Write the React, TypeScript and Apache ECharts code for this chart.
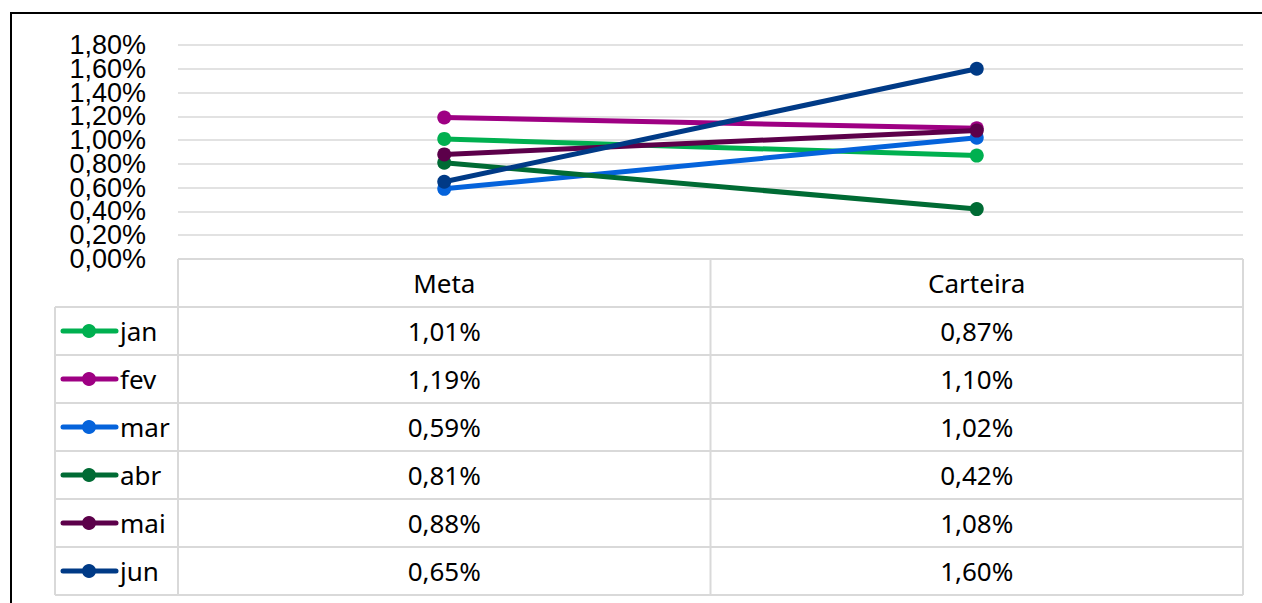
import React, { useEffect, useRef } from "react";
import * as echarts from "echarts";

const categories = ["Meta", "Carteira"];
const seriesNames = ["jan", "fev", "mar", "abr", "mai", "jun"];
const janValues = [1.01, 0.87];
const fevValues = [1.19, 1.1];
const marValues = [0.59, 1.02];
const abrValues = [0.81, 0.42];
const maiValues = [0.88, 1.08];
const junValues = [0.65, 1.6];
const seriesValues = [janValues, fevValues, marValues, abrValues, maiValues, junValues];
const seriesColors = ["#00B050", "#9E0083", "#0563DB", "#006B34", "#5C004A", "#003A86"];
const yTicks = [0, 0.2, 0.4, 0.6, 0.8, 1.0, 1.2, 1.4, 1.6, 1.8];
const yMin = 0;
const yMax = 1.8;
const yInterval = 0.2;

const fmt = (v: number) => v.toFixed(2).replace(".", ",") + "%";

export default function App() {
  const ref = useRef<HTMLDivElement>(null);
  useEffect(() => {
    if (!ref.current) return;
    const chart = echarts.init(ref.current, null, { renderer: "svg" });

    const gridLeft = 178;
    const gridRight = 1243;
    const gridTop = 45;
    const gridBottom = 259;
    const rowH = 48;
    const legendLeft = 55;
    const tableFont = "'Noto Sans', sans-serif";
    const tableSize = 26;
    const border = "#D9D9D9";

    chart.setOption({
      animation: false,
      backgroundColor: "#ffffff",
      grid: {
        left: gridLeft,
        right: 1262 - gridRight,
        top: gridTop,
        bottom: 603 - gridBottom,
        containLabel: false,
      },
      xAxis: {
        type: "category",
        data: categories,
        boundaryGap: true,
        axisLine: { show: false },
        axisTick: { show: false },
        axisLabel: { show: false },
      },
      yAxis: {
        type: "value",
        min: yMin,
        max: yMax,
        interval: yInterval,
        axisLine: { show: false },
        axisTick: { show: false },
        splitLine: { lineStyle: { color: border, width: 1.5 } },
        axisLabel: { show: false },
      },
      series: seriesNames.map((name, i) => ({
        name,
        type: "line",
        data: seriesValues[i],
        symbol: "circle",
        symbolSize: 14,
        lineStyle: { color: seriesColors[i], width: 5 },
        itemStyle: { color: seriesColors[i] },
        z: 2 + i,
      })),
    });

    const colCenters = categories.map((c) => chart.convertToPixel({ xAxisIndex: 0 }, c) as number);
    const tableBottom = gridBottom + rowH * (seriesNames.length + 1);
    const elements: any[] = [];
    elements.push({
      type: "rect",
      shape: { x: 11, y: 13, width: 1400, height: 800 },
      style: { fill: "none", stroke: "#000000", lineWidth: 2 },
      silent: true,
    });
    // y tick labels
    yTicks.forEach((v) => {
      const y = chart.convertToPixel({ yAxisIndex: 0 }, v) as number;
      elements.push({
        type: "text",
        x: gridLeft - 32,
        y,
        style: {
          text: fmt(v),
          fontFamily: "'Liberation Sans', Arial, sans-serif",
          fontSize: 27,
          fill: "#000000",
          align: "right",
          verticalAlign: "middle",
        },
      });
    });
    elements.push({
      type: "line",
      shape: { x1: gridLeft, y1: gridBottom, x2: gridRight, y2: gridBottom },
      style: { stroke: border, lineWidth: 2 },
    });
    for (let r = 1; r <= seriesNames.length + 1; r++) {
      const y = gridBottom + rowH * r;
      elements.push({
        type: "line",
        shape: { x1: legendLeft, y1: y, x2: gridRight, y2: y },
        style: { stroke: border, lineWidth: 2 },
      });
    }
    const mid = (gridLeft + gridRight) / 2;
    [gridLeft, mid, gridRight].forEach((x) => {
      elements.push({
        type: "line",
        shape: { x1: x, y1: gridBottom, x2: x, y2: tableBottom },
        style: { stroke: border, lineWidth: 2 },
      });
    });
    elements.push({
      type: "line",
      shape: { x1: legendLeft, y1: gridBottom + rowH, x2: legendLeft, y2: tableBottom },
      style: { stroke: border, lineWidth: 2 },
    });
    categories.forEach((c, j) => {
      elements.push({
        type: "text",
        x: colCenters[j],
        y: gridBottom + rowH / 2,
        style: {
          text: c,
          fontFamily: tableFont,
          fontSize: tableSize,
          fill: "#000000",
          align: "center",
          verticalAlign: "middle",
        },
      });
    });
    seriesNames.forEach((name, i) => {
      const yc = gridBottom + rowH * (i + 1) + rowH / 2;
      elements.push({
        type: "line",
        shape: { x1: 63, y1: yc, x2: 116, y2: yc },
        style: { stroke: seriesColors[i], lineWidth: 5, lineCap: "round" },
      });
      elements.push({
        type: "circle",
        shape: { cx: 89, cy: yc, r: 7 },
        style: { fill: seriesColors[i] },
      });
      elements.push({
        type: "text",
        x: 120,
        y: yc,
        style: {
          text: name,
          fontFamily: tableFont,
          fontSize: tableSize,
          fill: "#000000",
          align: "left",
          verticalAlign: "middle",
        },
      });
      seriesValues[i].forEach((v, j) => {
        elements.push({
          type: "text",
          x: colCenters[j],
          y: yc,
          style: {
            text: fmt(v),
            fontFamily: tableFont,
            fontSize: tableSize,
            fill: "#000000",
            align: "center",
            verticalAlign: "middle",
          },
        });
      });
    });
    chart.setOption({ graphic: { elements } });

    return () => chart.dispose();
  }, []);

  return (
    <div
      ref={ref}
      style={{ position: "fixed", left: 0, top: 0, width: 1262, height: 603, background: "#fff" }}
    />
  );
}
